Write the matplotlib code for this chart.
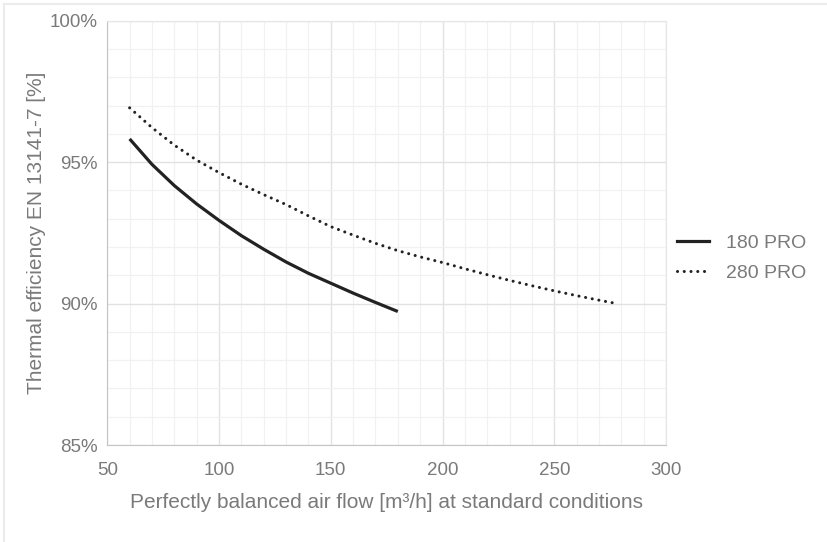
import numpy as np
import matplotlib.pyplot as plt
from matplotlib.ticker import MultipleLocator, FuncFormatter
from matplotlib.lines import Line2D

plt.rcParams['font.family'] = ['Liberation Sans', 'DejaVu Sans']

# данные кривых
flow_180 = [60, 70, 80, 90, 100, 110, 120, 130, 140, 150, 160, 170, 180]
eff_180 = [95.82, 94.92, 94.17, 93.52, 92.94, 92.4, 91.92, 91.47, 91.07, 90.72, 90.37, 90.04, 89.72]

flow_280 = [60, 70, 80, 90, 100, 110, 120, 130, 140, 150, 160, 170, 180, 190,
            200, 210, 220, 230, 240, 250, 260, 270, 278]
eff_280 = [96.92, 96.22, 95.6, 95.07, 94.63, 94.22, 93.85, 93.5, 93.1, 92.72, 92.42,
           92.13, 91.87, 91.65, 91.45, 91.23, 91.02, 90.82, 90.63, 90.45, 90.28, 90.12, 90.0]

labels = ['180 PRO', '280 PRO']
grey = '#7a7a7a'
ink = '#222222'

fig = plt.figure(figsize=(8.27, 5.42), dpi=100)
ax = fig.add_axes([107.3 / 827, 1 - 445 / 542, (666 - 107.3) / 827, (445 - 20.7) / 542])

ax.plot(flow_180, eff_180, color=ink, lw=2.3, solid_capstyle='butt', zorder=3)
ax.plot(flow_280, eff_280, color=ink, lw=2.2, linestyle=(0, (0.01, 2.2)),
        dash_capstyle='round', zorder=3)

ax.set_xlim(50, 300)
ax.set_ylim(85, 100)
ax.xaxis.set_major_locator(MultipleLocator(50))
ax.xaxis.set_minor_locator(MultipleLocator(10))
ax.yaxis.set_major_locator(MultipleLocator(5))
ax.yaxis.set_minor_locator(MultipleLocator(1))
ax.yaxis.set_major_formatter(FuncFormatter(lambda v, p: f'{v:.0f}%'))

ax.grid(which='major', color='#e2e2e2', lw=1.0)
ax.grid(which='minor', color='#f1f1f1', lw=0.9)
ax.set_axisbelow(True)
ax.tick_params(which='both', length=0, colors=grey, labelsize=13.5)
ax.tick_params(axis='x', pad=12.5)
ax.tick_params(axis='y', pad=7)
for side in ['left', 'bottom']:
    ax.spines[side].set_color('#c4c4c4')
for side in ['top', 'right']:
    ax.spines[side].set_color('#e6e6e6')

ax.set_xlabel('Perfectly balanced air flow [m³/h] at standard conditions',
              color=grey, fontsize=15, labelpad=9.5)
ax.set_ylabel('Thermal efficiency EN 13141-7 [%]', color=grey, fontsize=15, labelpad=2.5)

handles = [Line2D([], [], color=ink, lw=2.3),
           Line2D([], [], color=ink, lw=2.2, linestyle=(0, (0.01, 2.2)), dash_capstyle='round')]
fig.legend(handles, labels, loc='center left', bbox_to_anchor=(659 / 827, 1 - 258 / 542),
           frameon=False, fontsize=14, labelcolor=grey, handlelength=1.65,
           handletextpad=0.9, labelspacing=0.62)

# рамка картинки (верх и левый край)
fig.add_artist(Line2D([4 / 827, 1], [1 - 4 / 542, 1 - 4 / 542], color='#ebebeb', lw=1.5))
fig.add_artist(Line2D([4 / 827, 4 / 827], [0, 1 - 4 / 542], color='#ebebeb', lw=1.5))

fig.savefig('out.png', dpi=100)
